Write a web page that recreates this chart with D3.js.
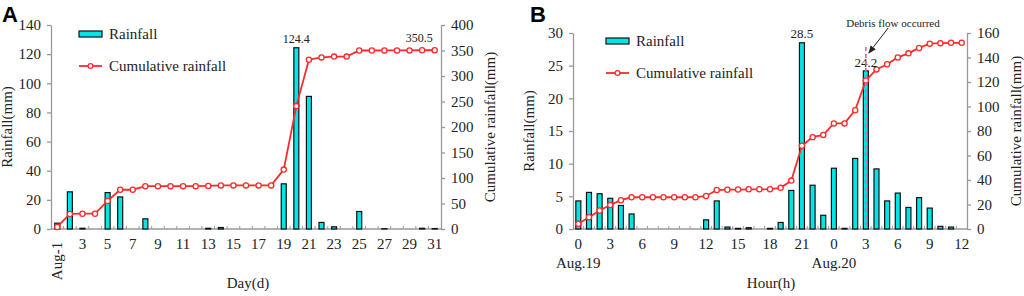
<!DOCTYPE html>
<html>
<head>
<meta charset="utf-8">
<script src="https://cdn.jsdelivr.net/npm/d3@7"></script>
<style>
  body { margin: 0; background: #fff; }
  svg { display: block; }
</style>
</head>
<body>
<svg id="chart" width="1024" height="296"></svg>
<script>
// Panel A: daily rainfall in August
const daysA = d3.range(1, 32);
const rainA = [4, 25.5, 0.5, 0, 25, 22, 0, 7, 0, 0, 0, 0, 0.5, 1, 0, 0, 0, 0, 31, 124.4, 91, 4.5, 1.5, 0, 12, 0, 0.2, 0, 0, 0.5, 0.3];
const cumA = [4, 29.5, 30, 30, 55, 77, 77, 84, 84, 84, 84, 84, 84.5, 85.5, 85.5, 85.5, 85.5, 85.5, 116.5, 241, 332, 336.5, 338, 338, 350, 350, 350.2, 350.2, 350.2, 350.5, 350.5];
const tickLabelsA = ['Aug-1', '3', '5', '7', '9', '11', '13', '15', '17', '19', '21', '23', '25', '27', '29', '31'];

// Panel B: hourly rainfall, Aug.19 0h to Aug.20 12h
const hoursB = d3.range(0, 37);
const rainB = [4.3, 5.6, 5.4, 4.7, 3.6, 2.3, 0, 0, 0, 0, 0, 0, 1.4, 4.3, 0.3, 0.1, 0.2, 0, 0.1, 1.0, 5.9, 28.5, 6.7, 2.1, 9.3, 0.1, 10.8, 24.2, 9.2, 4.3, 5.5, 3.3, 4.8, 3.2, 0.4, 0.3, 0];
const cumB = [4.2, 9.6, 15.1, 19.6, 23.5, 25.9, 25.9, 25.9, 25.9, 25.9, 25.9, 25.9, 27, 31.8, 32.1, 32.2, 32.4, 32.4, 32.5, 33.6, 39.5, 68, 75, 76.8, 86.2, 86.2, 97, 121.3, 130.3, 134.5, 140.1, 143.4, 147.8, 151.3, 151.7, 152, 152];
const tickLabelsB = ['0', '3', '6', '9', '12', '15', '18', '21', '0', '3', '6', '9', '12'];

const serif = 'Liberation Serif';
const svg = d3.select('#chart').attr('font-family', serif);
const axisColor = '#999';
const barFill = '#00e6e6';
const lineColor = '#ff2a2a';

function drawPanel(p) {
    const g = svg.append('g');

    const x = d3.scaleBand()
        .domain(p.cats)
        .range([p.left, p.right])
        .paddingInner(0).paddingOuter(0);
    const cx = d => x(d) + x.bandwidth() / 2;

    const yL = d3.scaleLinear().domain([0, p.maxL]).range([p.bottom, p.top]);
    const yR = d3.scaleLinear().domain([0, p.maxR]).range([p.bottom, p.top]);

    // left axis
    const axL = g.append('g')
        .attr('transform', `translate(${p.left},0)`)
        .call(d3.axisLeft(yL).tickValues(d3.range(0, p.maxL + 0.001, p.stepL)).tickSize(4).tickSizeOuter(0).tickPadding(6));
    // right axis
    const axR = g.append('g')
        .attr('transform', `translate(${p.right},0)`)
        .call(d3.axisRight(yR).tickValues(d3.range(0, p.maxR + 0.001, p.stepR)).tickSize(4).tickSizeOuter(0).tickPadding(6));
    [axL, axR].forEach(a => {
        a.attr('font-family', serif).attr('font-size', 15);
        a.selectAll('path, line').attr('stroke', axisColor).attr('stroke-width', 1.3);
        a.selectAll('text').attr('fill', '#222');
    });

    // bottom axis line with small inward ticks at band edges
    g.append('line')
        .attr('x1', p.left).attr('x2', p.right)
        .attr('y1', p.bottom).attr('y2', p.bottom)
        .attr('stroke', axisColor).attr('stroke-width', 1.3);
    g.selectAll('.xtick')
        .data(p.cats.slice(1))
        .enter().append('line')
        .attr('x1', d => x(d)).attr('x2', d => x(d))
        .attr('y1', p.bottom).attr('y2', p.bottom - 3)
        .attr('stroke', axisColor).attr('stroke-width', 1);

    // tick labels
    g.selectAll('.xlab')
        .data(p.labelCats)
        .enter().append('text')
        .attr('x', d => cx(d))
        .attr('y', p.bottom + 20)
        .attr('text-anchor', 'middle')
        .attr('font-size', 15)
        .attr('fill', '#222')
        .text((d, i) => p.labels[i])
        .each(function (d, i) {
            if (p.rotateFirst && i === 0) {
                d3.select(this)
                    .attr('transform', `rotate(-90,${cx(d)},${p.bottom + 10})`)
                    .attr('x', cx(d) - 22)
                    .attr('y', p.bottom + 15)
                    .attr('text-anchor', 'middle');
            }
        });

    // bars
    g.selectAll('.bar')
        .data(p.rain.map((v, i) => ({ c: p.cats[i], v })))
        .enter().append('rect')
        .attr('x', d => cx(d.c) - p.barW / 2)
        .attr('y', d => yL(d.v))
        .attr('width', p.barW)
        .attr('height', d => p.bottom - yL(d.v))
        .attr('fill', barFill)
        .attr('stroke', '#111')
        .attr('stroke-width', 1.2);

    // cumulative line
    const line = d3.line().x((d, i) => cx(p.cats[i])).y(d => yR(d));
    g.append('path')
        .datum(p.cum)
        .attr('d', line)
        .attr('fill', 'none')
        .attr('stroke', lineColor)
        .attr('stroke-width', 1.8);
    g.selectAll('.pt')
        .data(p.cum)
        .enter().append('circle')
        .attr('cx', (d, i) => cx(p.cats[i]))
        .attr('cy', d => yR(d))
        .attr('r', 2.6)
        .attr('fill', '#fff')
        .attr('stroke', lineColor)
        .attr('stroke-width', 1.3);

    // legend
    const lx = p.left + p.legendDx;
    g.append('rect')
        .attr('x', lx).attr('y', p.top + p.legendDy - 3)
        .attr('width', 23).attr('height', 6)
        .attr('fill', barFill).attr('stroke', '#111').attr('stroke-width', 1.2);
    g.append('text')
        .attr('x', lx + 30).attr('y', p.top + p.legendDy + 5)
        .attr('font-size', 15).attr('fill', '#222')
        .text('Rainfall');
    g.append('line')
        .attr('x1', lx).attr('x2', lx + 23)
        .attr('y1', p.top + p.legendDy + 32).attr('y2', p.top + p.legendDy + 32)
        .attr('stroke', lineColor).attr('stroke-width', 1.8);
    g.append('circle')
        .attr('cx', lx + 11.5).attr('cy', p.top + p.legendDy + 32).attr('r', 2.4)
        .attr('fill', '#fff').attr('stroke', lineColor).attr('stroke-width', 1.2);
    g.append('text')
        .attr('x', lx + 30).attr('y', p.top + p.legendDy + 37)
        .attr('font-size', 15).attr('fill', '#222')
        .text('Cumulative rainfall');

    // axis titles
    g.append('text')
        .attr('transform', `translate(${p.left - 39},${(p.top + p.bottom) / 2}) rotate(-90)`)
        .attr('text-anchor', 'middle')
        .attr('font-size', 15).attr('fill', '#222')
        .text('Rainfall(mm)');
    g.append('text')
        .attr('transform', `translate(${p.right + 54},${(p.top + p.bottom) / 2}) rotate(-90)`)
        .attr('text-anchor', 'middle')
        .attr('font-size', 15).attr('fill', '#222')
        .text('Cumulative rainfall(mm)');
    g.append('text')
        .attr('x', p.xTitleX).attr('y', 288)
        .attr('text-anchor', 'middle')
        .attr('font-size', 15).attr('fill', '#222')
        .text(p.xTitle);

    // panel letter
    g.append('text')
        .attr('x', p.letterX).attr('y', 22)
        .attr('font-family', 'Liberation Sans')
        .attr('font-weight', 'bold')
        .attr('font-size', 22)
        .text(p.letter);

    return { g, x, cx, yL, yR };
}

// Panel A
const a = drawPanel({
    cats: daysA, rain: rainA, cum: cumA,
    labelCats: daysA.filter(d => d % 2 === 1), labels: tickLabelsA, rotateFirst: true,
    left: 51, right: 441, top: 25, bottom: 229,
    maxL: 140, stepL: 20, maxR: 400, stepR: 50,
    barW: 5, legendDx: 28, legendDy: 9,
    xTitle: 'Day(d)', xTitleX: 248, letter: 'A', letterX: 2
});
a.g.append('text')
    .attr('x', a.cx(20)).attr('y', a.yL(124.4) - 5)
    .attr('text-anchor', 'middle').attr('font-size', 12).attr('fill', '#222')
    .text('124.4');
a.g.append('text')
    .attr('x', a.cx(30) - 3).attr('y', a.yR(350.5) - 8)
    .attr('text-anchor', 'middle').attr('font-size', 12).attr('fill', '#222')
    .text('350.5');

// Panel B
const b = drawPanel({
    cats: hoursB, rain: rainB, cum: cumB,
    labelCats: hoursB.filter(d => d % 3 === 0), labels: tickLabelsB, rotateFirst: false,
    left: 573, right: 967, top: 33, bottom: 229,
    maxL: 30, stepL: 5, maxR: 160, stepR: 20,
    barW: 5, legendDx: 33, legendDy: 8,
    xTitle: 'Hour(h)', xTitleX: 771, letter: 'B', letterX: 530
});
b.g.append('text')
    .attr('x', b.cx(0)).attr('y', 268)
    .attr('text-anchor', 'middle').attr('font-size', 15).attr('fill', '#222')
    .text('Aug.19');
b.g.append('text')
    .attr('x', b.cx(24)).attr('y', 268)
    .attr('text-anchor', 'middle').attr('font-size', 15).attr('fill', '#222')
    .text('Aug.20');
b.g.append('text')
    .attr('x', b.cx(21)).attr('y', b.yL(28.5) - 5)
    .attr('text-anchor', 'middle').attr('font-size', 13).attr('fill', '#222')
    .text('28.5');
b.g.append('text')
    .attr('x', b.cx(27)).attr('y', b.yL(24.2) - 4)
    .attr('text-anchor', 'middle').attr('font-size', 13).attr('fill', '#222')
    .text('24.2');
// debris flow marker
b.g.append('line')
    .attr('x1', b.cx(27)).attr('x2', b.cx(27))
    .attr('y1', 47).attr('y2', b.yL(0))
    .attr('stroke', '#ff5aa8').attr('stroke-width', 1.6)
    .attr('stroke-dasharray', '4,3');
svg.append('defs').append('marker')
    .attr('id', 'arrow').attr('viewBox', '0 0 10 10')
    .attr('refX', 9).attr('refY', 5)
    .attr('markerWidth', 8).attr('markerHeight', 8)
    .attr('orient', 'auto')
    .append('path').attr('d', 'M0,1 L10,5 L0,9 Z').attr('fill', '#222');
b.g.append('line')
    .attr('x1', b.cx(29) + 1).attr('y1', 28)
    .attr('x2', b.cx(27) + 3).attr('y2', 53)
    .attr('stroke', '#222').attr('stroke-width', 1)
    .attr('marker-end', 'url(#arrow)');
b.g.append('text')
    .attr('x', 893).attr('y', 27)
    .attr('text-anchor', 'middle').attr('font-size', 11).attr('fill', '#222')
    .text('Debris flow occurred');
</script>
</body>
</html>
